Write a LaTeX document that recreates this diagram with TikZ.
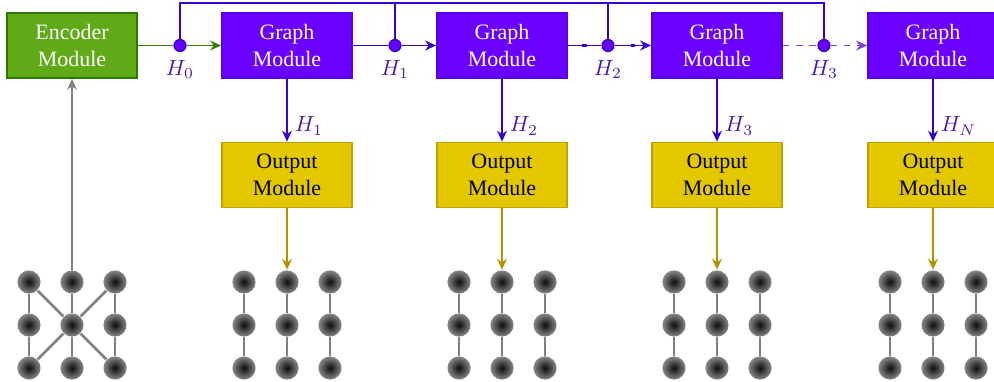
\documentclass[tikz,border=0pt]{standalone}
\usepackage{fontspec}
\setmainfont{Liberation Serif}
\usetikzlibrary{arrows.meta, positioning, shapes}
\definecolor{encfill}{HTML}{60A917}
\definecolor{encdraw}{HTML}{2D7600}
\definecolor{grfill}{HTML}{6A00FF}
\definecolor{grdraw}{HTML}{3700CC}
\definecolor{dashpurple}{HTML}{7A3DE6}
\definecolor{outfill}{HTML}{E3C800}
\definecolor{outdraw}{HTML}{B09500}
\definecolor{hlabel}{HTML}{4B1AA0}
\pgfdeclareradialshading{vball}{\pgfpoint{0bp}{0bp}}{color(0bp)=(black!95); color(25bp)=(black!47); color(50bp)=(black!47)}

\begin{document}
\begin{tikzpicture}[>={Stealth[length=5pt,width=4.5pt]}, line width=0.6pt,
   module/.style={rectangle, minimum width=2.08cm, minimum height=1.04cm, align=center, line width=0.8pt},
   encoder/.style={module, fill=encfill, draw=encdraw},
   graphmod/.style={module, fill=grfill, draw=grdraw!40!grfill, text=white},
   outmod/.style={module, fill=outfill, draw=outdraw!70!outfill},
   hdot/.style={circle, fill=grfill, draw=grdraw, inner sep=0pt, minimum size=0.19cm},
   vertex/.style={circle, inner sep=0pt, minimum size=0.37cm, shading=vball},
   gedge/.style={draw=gray, line width=1.2pt},
   tick/.style={fill=grdraw, inner sep=0pt, minimum width=0.07cm, minimum height=0.04cm},
   hlab/.style={text=hlabel}]

   \useasboundingbox (0,0) rectangle (15.904,6.096);

   % Nodes
      \node[encoder, text=white]  (enc)  at (1.152,5.368)   {Encoder\\Module};
      \node[graphmod]  (g1)   at (4.592,5.368)   {Graph\\Module};
      \node[graphmod]  (g2)   at (8.032,5.368)   {Graph\\Module};
      \node[graphmod]  (g3)   at (11.472,5.368)  {Graph\\Module};
      \node[graphmod]  (g4)   at (14.928,5.368)  {Graph\\Module};

      \node[outmod]    (o1)   at (4.592,3.296)   {Output\\Module};
      \node[outmod]    (o2)   at (8.032,3.296)   {Output\\Module};
      \node[outmod]    (o3)   at (11.472,3.296)  {Output\\Module};
      \node[outmod]    (o4)   at (14.928,3.296)  {Output\\Module};

      \node[hdot, label={[hlab]below:$H_0$}]  (h0)  at (2.88,5.368)   {};
      \node[hdot, label={[hlab]below:$H_1$}]  (h1)  at (6.32,5.368)   {};
      \node[hdot, label={[hlab]below:$H_2$}]  (h2)  at (9.728,5.368)  {};
      \node[hdot, label={[hlab]below:$H_3$}]  (h3)  at (13.184,5.368) {};

      \coordinate (bus) at (0,6.048);

   % Graphs
      \foreach \g/\x in {0/1.152, 1/4.592, 2/8.032, 3/11.472, 4/14.928}
         \foreach \c/\dx in {a/-0.688, b/0, c/0.688}
            \foreach \r/\y in {1/1.584, 2/0.896, 3/0.208}
               \node[vertex] (v\g\c\r) at (\x+\dx,\y) {};

      \foreach \g in {1,...,4}
         \foreach \c in {a,b,c}
            \path[gedge] (v\g\c1) -- (v\g\c2) -- (v\g\c3);

      \path[gedge] (v0a1) -- (v0a2) -- (v0a3);
      \path[gedge] (v0b1) -- (v0b2) -- (v0b3);
      \path[gedge] (v0c1) -- (v0c2) -- (v0c3);
      \path[gedge] (v0a1) -- (v0b2) -- (v0c3);
      \path[gedge] (v0c1) -- (v0b2) -- (v0a3);

   % Paths
      \draw[->, gray] (v0b1) -- (enc);
      \draw[encdraw!80!encfill] (enc) -- (h0);
      \draw[->, encdraw!80!encfill] (h0) -- (g1);

      \draw[grdraw] (g1) -- (h1);
      \draw[->, grdraw] (h1) -- (g2);
      \draw[grdraw] (g2) -- node[tick] {} (h2);
      \draw[->, grdraw] (h2) -- node[tick] {} (g3);
      \draw[dashpurple, dashed] (g3) -- (h3);
      \draw[->, dashpurple, dashed] (h3) -- (g4);

      \draw[grdraw] (h0) |- (h3 |- bus) -- (h3);
      \draw[grdraw] (h1) -- (h1 |- bus);
      \draw[grdraw] (h2) -- (h2 |- bus);

      \draw[->, grdraw] (g1) -- node[right, hlab, pos=0.75] {$H_1$} (o1);
      \draw[->, grdraw] (g2) -- node[right, hlab, pos=0.75] {$H_2$} (o2);
      \draw[->, grdraw] (g3) -- node[right, hlab, pos=0.75] {$H_3$} (o3);
      \draw[->, grdraw] (g4) -- node[right, hlab, pos=0.75] {$H_N$} (o4);

      \draw[->, outdraw] (o1) -- (v1b1);
      \draw[->, outdraw] (o2) -- (v2b1);
      \draw[->, outdraw] (o3) -- (v3b1);
      \draw[->, outdraw] (o4) -- (v4b1);
   \end{tikzpicture}
\end{document}
